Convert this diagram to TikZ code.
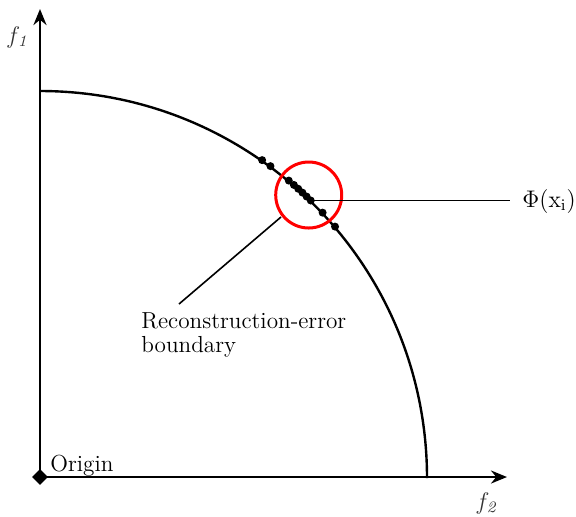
\documentclass[tikz,border=0pt]{standalone}
\usetikzlibrary{calc,arrows.meta,shapes.geometric}
\begin{document}
\begin{tikzpicture}[x=0.5pt,y=-0.5pt,
  axis/.style={line width=1.3pt,-{Stealth[length=8pt,width=6.5pt]}},
  pt/.style={circle,fill=black,inner sep=0pt,minimum size=4pt},
  lbl/.style={font=\fontsize{11.6}{12}\selectfont,inner sep=0pt},
  axlbl/.style={font=\fontsize{11.6}{12}\selectfont,text=black!80,inner sep=0pt}]
\useasboundingbox (0,0) rectangle (576,516);
\coordinate (O) at (40,477);
\coordinate (ytip) at (40,9);
\coordinate (xtip) at (507,477);
% axes
\draw[axis] (O) -- (ytip);
\draw[axis] (O) -- (xtip);
% arc
\draw[line width=1.2pt] (40,91) arc[start angle=90,end angle=0,radius=193.5pt];
% origin diamond
\node[diamond,fill=black,inner sep=0pt,minimum size=8pt] (od) at (O) {};
% dots
\foreach \a [count=\i] in {54.97,53.45,49.99,49.0,48.15,47.3,46.45,45.6,43.09,40.32}
  \node[pt] (p\i) at ($(O)+(\a:193.5pt)$) {};
% red circle
\node[draw=red,line width=1.5pt,circle,minimum size=33pt,inner sep=0pt] (rc) at (308.7,195) {};
% labels
\node[axlbl] (f1) at (18,37) {$f_{\mathit{1}}$};
\node[axlbl] (f2) at (487,503) {$f_{\mathit{2}}$};
\node[lbl,anchor=base west] (orig) at (50,471) {Origin};
\node[lbl,anchor=west] (phi) at (522,201) {$\Phi(\mathrm{x_i})$};
\node[lbl,anchor=north west,align=left] (rb) at (141,312) {Reconstruction-error\\boundary};
% connectors
\coordinate (phiend) at (510,198.5);
\draw[line width=0.8pt] (p8.center) -- (p8.center -| phiend);
\coordinate (rcend) at (281,217);
\coordinate (rbend) at (179,304);
\draw[line width=0.8pt] (rcend) -- (rbend);
\end{tikzpicture}
\end{document}
